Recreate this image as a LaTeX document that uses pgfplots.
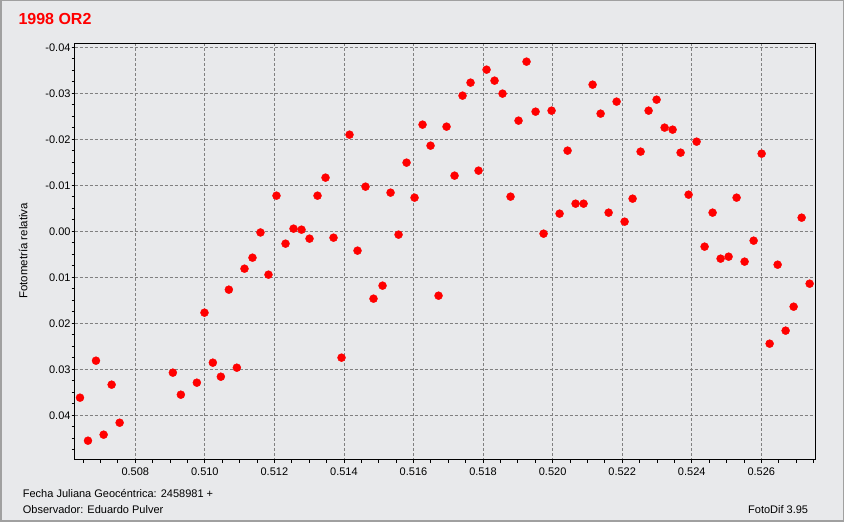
\documentclass[border=0pt]{standalone}
\usepackage{fontspec}
\setmainfont{Liberation Sans}
\usepackage{pgfplots}
\pgfplotsset{compat=1.18}

\definecolor{panel}{RGB}{232,233,235}
\definecolor{frame}{RGB}{160,160,160}
\definecolor{gridgray}{RGB}{128,128,128}
\definecolor{ptred}{RGB}{255,0,0}

\pgfplotstableread{
jd      mag
0.50641 0.03616
0.50664 0.04551
0.50687 0.02812
0.50709 0.04420
0.50732 0.03333
0.50755 0.04160
0.50908 0.03072
0.50931 0.03551
0.50977 0.03290
0.50999 0.01768
0.51023 0.02855
0.51046 0.03160
0.51069 0.01268
0.51092 0.02964
0.51114 0.00812
0.51137 0.00573
0.51160 0.00025
0.51183 0.00942
0.51206 -0.00775
0.51232 0.00268
0.51255 -0.00058
0.51278 -0.00036
0.51301 0.00159
0.51324 -0.00775
0.51347 -0.01167
0.51370 0.00138
0.51393 0.02746
0.51416 -0.02101
0.51439 0.00420
0.51462 -0.00971
0.51485 0.01464
0.51511 0.01181
0.51534 -0.00841
0.51557 0.00072
0.51580 -0.01493
0.51603 -0.00732
0.51626 -0.02319
0.51649 -0.01862
0.51672 0.01399
0.51695 -0.02275
0.51718 -0.01210
0.51741 -0.02949
0.51764 -0.03232
0.51787 -0.01319
0.51810 -0.03514
0.51833 -0.03275
0.51856 -0.02993
0.51879 -0.00754
0.51902 -0.02406
0.51925 -0.03688
0.51951 -0.02601
0.51974 0.00051
0.51997 -0.02623
0.52020 -0.00384
0.52043 -0.01754
0.52066 -0.00601
0.52089 -0.00601
0.52115 -0.03188
0.52138 -0.02558
0.52161 -0.00406
0.52184 -0.02819
0.52207 -0.00210
0.52230 -0.00710
0.52253 -0.01732
0.52276 -0.02623
0.52299 -0.02862
0.52322 -0.02254
0.52345 -0.02210
0.52368 -0.01710
0.52391 -0.00797
0.52414 -0.01949
0.52437 0.00333
0.52460 -0.00406
0.52483 0.00594
0.52506 0.00551
0.52529 -0.00732
0.52552 0.00659
0.52578 0.00203
0.52601 -0.01688
0.52624 0.02442
0.52647 0.00725
0.52670 0.02159
0.52693 0.01638
0.52716 -0.00297
0.52739 0.01138
}\fotometria

\begin{document}
\begin{tikzpicture}[x=1pt,y=1pt]
\fill[panel] (0,0) rectangle (844,522);
\draw[frame, line width=1.5pt] (0.75,0.75) rectangle (843.25,521.25);

\begin{axis}[
  at={(74.7pt,62.3pt)}, anchor=south west,
  scale only axis, width=740.6pt, height=416.4pt,
  xmin=0.506258, xmax=0.527553,
  ymin=-0.04087, ymax=0.04964,
  y dir=reverse,
  scaled x ticks=false, scaled y ticks=false,
  axis line style={black, line width=1.5pt},
  xtick={0.508,0.510,0.512,0.514,0.516,0.518,0.520,0.522,0.524,0.526},
  xticklabels={0.508,0.510,0.512,0.514,0.516,0.518,0.520,0.522,0.524,0.526},
  minor xtick={0.5065,0.507,...,0.5276},
  ytick={-0.04,-0.03,-0.02,-0.01,0,0.01,0.02,0.03,0.04},
  yticklabels={-0.04,-0.03,-0.02,-0.01,0.00,0.01,0.02,0.03,0.04},
  minor ytick={-0.04,-0.0375,...,0.0476},
  xtick pos=bottom, ytick pos=left,
  tick align=outside,
  major tick length=3pt, minor tick length=3pt,
  every tick/.style={black, line width=0.8pt},
  tick label style={font=\fontsize{11}{13}\selectfont, inner sep=0pt},
  xticklabel style={anchor=north, yshift=-5pt},
  yticklabel style={anchor=east, xshift=-1pt},
  grid=major,
  major grid style={gridgray, line width=0.9pt, dash pattern=on 3pt off 2pt},
  clip=false,
]
\addplot[only marks, mark=*, mark size=4pt, mark options={fill=ptred, draw=ptred}]
  table[x=jd, y=mag]{\fotometria};
\end{axis}

\node[anchor=base west, inner sep=0pt, text=ptred, font=\fontsize{16}{19}\selectfont\bfseries]
  at (18.3,497) {1998 OR2};
\node[rotate=90, anchor=base, inner sep=0pt, font=\fontsize{11.5}{13}\selectfont]
  at (27.3,271) {Fotometría relativa};
\node[anchor=base west, inner sep=0pt, font=\fontsize{11}{13}\selectfont]
  at (22.7,24.3) {Fecha Juliana Geocéntrica: 2458981 +};
\node[anchor=base west, inner sep=0pt, font=\fontsize{11}{13}\selectfont]
  at (22.7,8.7) {Observador: Eduardo Pulver};
\node[anchor=base west, inner sep=0pt, font=\fontsize{11}{13}\selectfont]
  at (748,8.7) {FotoDif 3.95};
\end{tikzpicture}
\end{document}
